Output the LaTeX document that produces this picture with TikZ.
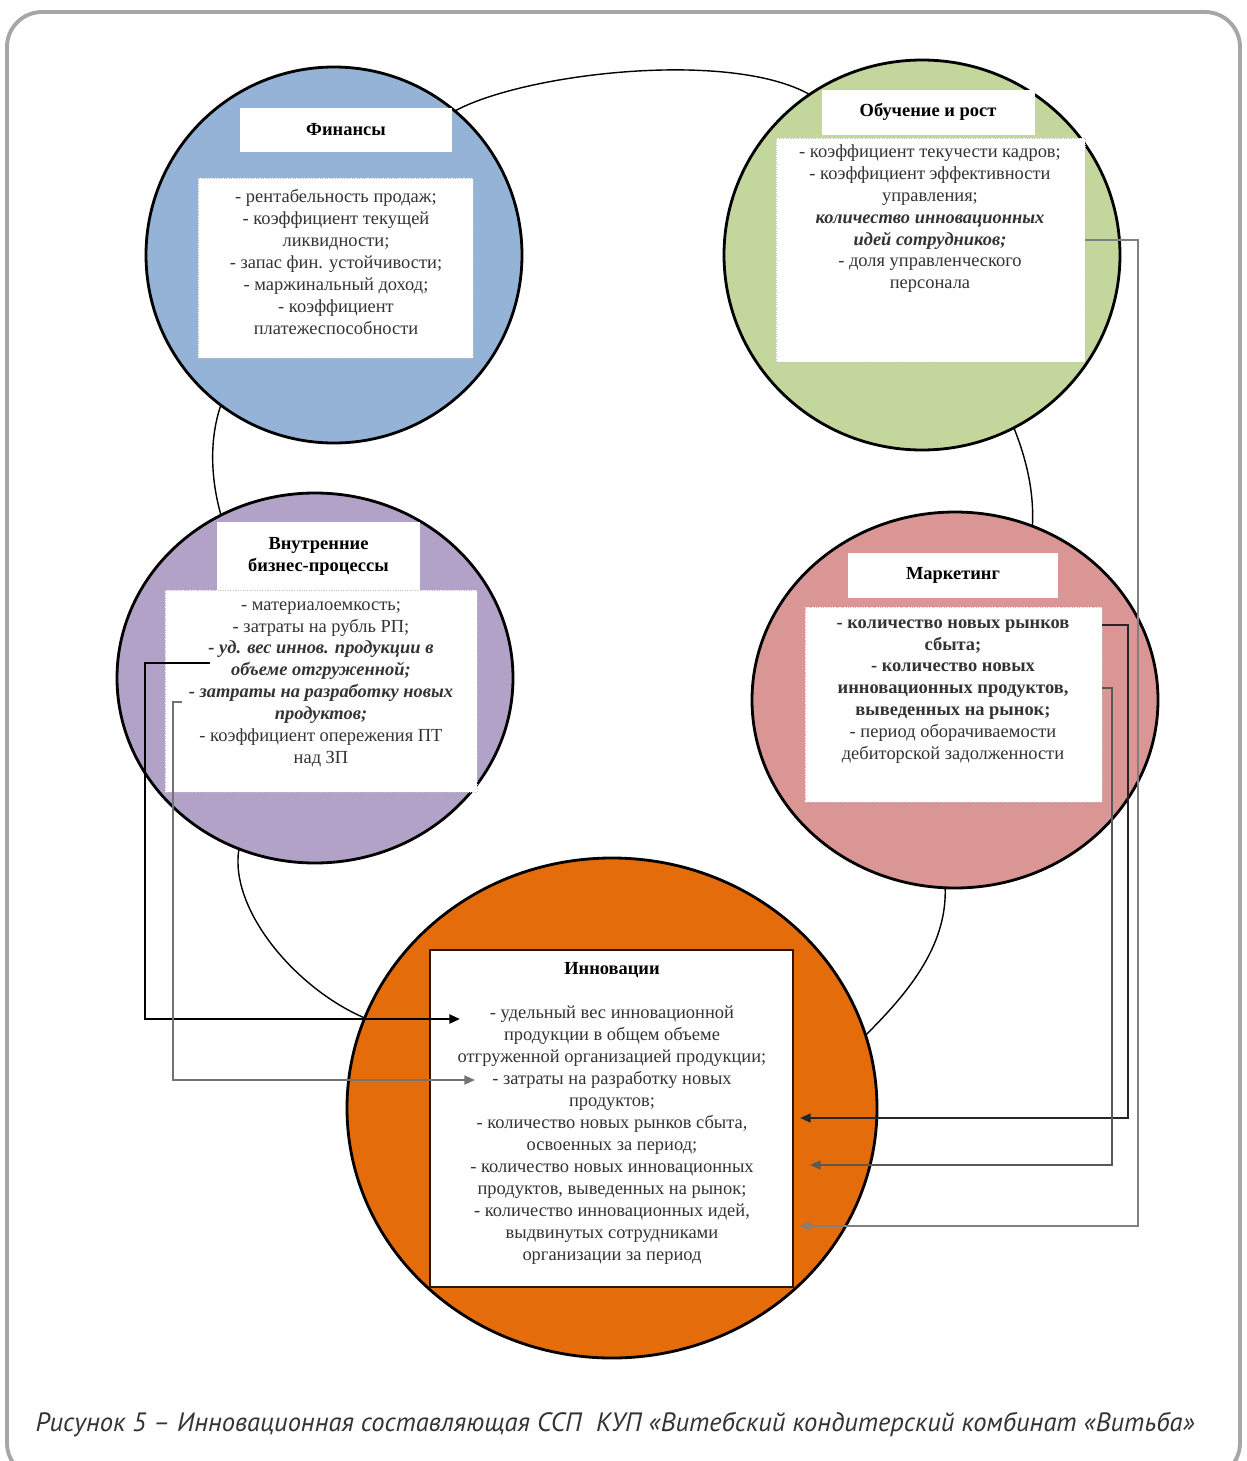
\documentclass[tikz,border=0pt]{standalone}
\usepackage{fontspec}
\setmainfont{Liberation Serif}
\newfontfamily\capfont{PT Sans}
\usetikzlibrary{shapes.geometric,arrows.meta}
\definecolor{finblue}{HTML}{95B3D7}
\definecolor{grngreen}{HTML}{C3D69B}
\definecolor{ibpviolet}{HTML}{B2A2C7}
\definecolor{mktpink}{HTML}{D99694}
\definecolor{innorange}{HTML}{E46C0A}
\definecolor{framegray}{HTML}{A6A6A6}
\def\px{0.02cm}
\tikzset{
  dims/.style 2 args={minimum width=#1*\px, minimum height=#2*\px},
  sector/.style={ellipse, draw=black, line width=1.6pt, inner sep=0pt, outer sep=0pt},
  headbox/.style={rectangle, fill=white, inner sep=0pt, align=center,
    font=\fontsize{10.5}{12.5}\selectfont\bfseries},
  listbox/.style={rectangle, fill=white, draw=black!25, densely dotted, inner sep=0pt},
  listtext/.style={anchor=north, align=center, inner sep=0pt,
    font=\fontsize{10.5}{12.5}\selectfont, text=black!80},
  link/.style={draw=black, line width=0.8pt},
  feed/.style={line width=1.2pt, -{Triangle[length=6pt,width=5pt]}},
}
\begin{document}
\begin{tikzpicture}[x=0.02cm,y=-0.02cm]
\useasboundingbox (0,0) rectangle (1247,1461);
% frame
\draw[framegray, line width=2.2pt, rounded corners=0.7cm] (7,12) rectangle (1240,1478);

% sectors
\node[sector, fill=finblue, dims={376}{376}] (fin) at (334,255) {};
\node[sector, fill=grngreen, dims={396}{390}] (grn) at (922,255) {};
\node[sector, fill=ibpviolet, dims={396}{370}] (ibp) at (315,678) {};
\node[sector, fill=mktpink, dims={406}{376}] (mkt) at (955,700) {};
\node[sector, fill=innorange, dims={530}{500}] (inn) at (612,1108) {};

% links between sectors
\draw[link] (fin.50) .. controls +(70,-38) and +(-80,-45) .. (grn.125);
\draw[link] (fin.233) .. controls +(-12,35) and +(-10,-35) .. (ibp.120);
\draw[link] (grn.298) .. controls +(12,30) and +(2,-35) .. (mkt.66);
\draw[link] (ibp.246) .. controls +(-10,60) and +(-70,-30) .. (inn.160);
\draw[link] (mkt.267) .. controls +(2,60) and +(40,-40) .. (inn.16);

% Finance
\node[headbox, dims={212}{44}] (finhead) at (346,130) {Финансы};
\node[listbox, dims={275}{180}] (finbox) at (335.5,268) {};
\node[listtext] (finlist) at (336,189) {- рентабельность продаж;\\
  - коэффициент текущей\\ ликвидности;\\ - запас фин. устойчивости;\\
  - маржинальный доход;\\ - коэффициент\\ платежеспособности};

% Learning and growth
\node[headbox, dims={213}{45}] (grnhead) at (928,112) {Обучение и рост};
\node[listbox, dims={309}{224}] (grnbox) at (930.5,250) {};
\node[listtext] (grnlist) at (930,144) {- коэффициент текучести кадров;\\
  - коэффициент эффективности\\ управления;\\
  \textbf{\textit{количество инновационных}}\\ \textbf{\textit{идей сотрудников;}}\\
  - доля управленческого\\ персонала};

% Internal business processes
\node[headbox, dims={203}{68}] (ibphead) at (318.5,556) {Внутренние\\ бизнес-процессы};
\node[listbox, dims={312}{202}] (ibpbox) at (321,691) {};
\node[listtext] (ibplist) at (321,601) {- материалоемкость;\\ - затраты на рубль РП;\\
  \textbf{\textit{- уд. вес иннов. продукции в}}\\ \textbf{\textit{объеме отгруженной;}}\\
  \textbf{\textit{- затраты на разработку новых}}\\ \textbf{\textit{продуктов;}}\\
  - коэффициент опережения ПТ\\ над ЗП};

% Marketing
\node[headbox, dims={210}{45}] (mkthead) at (953,575.5) {Маркетинг};
\node[listbox, dims={297}{195}] (mktbox) at (953.5,704.5) {};
\node[listtext] (mktlist) at (953,619) {\textbf{- количество новых рынков}\\ \textbf{сбыта;}\\
  \textbf{- количество новых}\\ \textbf{инновационных продуктов,}\\ \textbf{выведенных на рынок;}\\
  - период оборачиваемости\\ дебиторской задолженности};

% Innovation
\node[rectangle, fill=white, draw=black!80!innorange, line width=1.1pt, dims={363}{337}] (innbox) at (611.5,1118.5) {};
\node[headbox] (innhead) at (612,970) {Инновации};
\node[listtext] (innlist) at (612,1006) {- удельный вес инновационной\\ продукции в общем объеме\\
  отгруженной организацией продукции;\\ - затраты на разработку новых\\ продуктов;\\
  - количество новых рынков сбыта,\\ освоенных за период;\\
  - количество новых инновационных\\ продуктов, выведенных на рынок;\\
  - количество инновационных идей,\\ выдвинутых сотрудниками\\ организации за период};

% feedback arrows
\coordinate (udves) at (210,663);
\coordinate (zatraty) at (182,702);
\coordinate (rynki) at (1102,625);
\coordinate (produkty) at (1102,688);
\coordinate (idei) at (1085,240);
\coordinate (toUdves) at (460,1019);
\coordinate (toZatraty) at (475,1080);
\coordinate (toRynki) at (800,1118);
\coordinate (toProdukty) at (810,1165);
\coordinate (toIdei) at (800,1226);
\draw[feed, black, line width=1.4pt] (udves) -- ++(-65,0) |- (toUdves);
\draw[feed, black!55] (zatraty) -- ++(-9,0) |- (toZatraty);
\draw[feed, black!85] (rynki) -- ++(26,0) |- (toRynki);
\draw[feed, black!65] (produkty) -- ++(10,0) |- (toProdukty);
\draw[feed, black!50] (idei) -- ++(53,0) |- (toIdei);

% caption
\node[font=\capfont\itshape\fontsize{15.1}{18}\selectfont, text=black!80] (caption) at (615,1425)
  {Рисунок 5 – Инновационная составляющая ССП\ \ КУП «Витебский кондитерский комбинат «Витьба»};
\end{tikzpicture}
\end{document}
